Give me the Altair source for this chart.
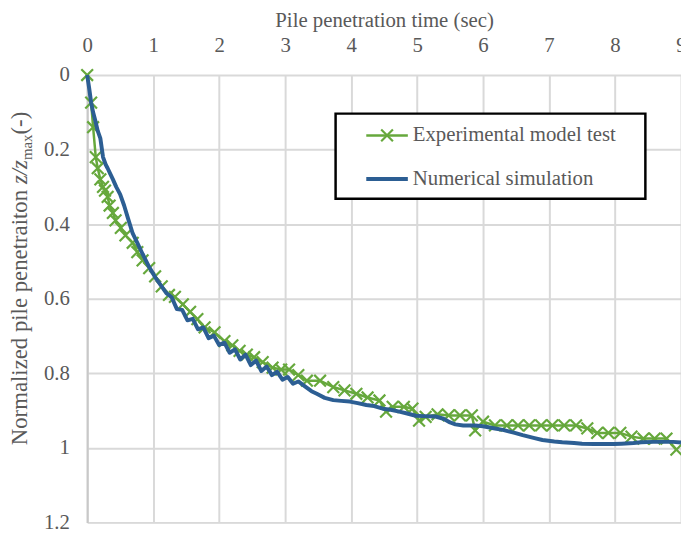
import altair as alt
import pandas as pd

# ---------------- data ----------------
exp_t = [0, 0.06, 0.09, 0.13, 0.16, 0.20, 0.24, 0.27, 0.31, 0.34, 0.39, 0.43, 0.51,
         0.58, 0.69, 0.76, 0.84, 0.94, 1.03, 1.13, 1.24, 1.33, 1.45, 1.56, 1.67,
         1.78, 1.93, 2.08, 2.20, 2.31, 2.42, 2.53, 2.66, 2.81, 2.94, 3.06, 3.20,
         3.33, 3.53, 3.73, 3.90, 4.08, 4.25, 4.43, 4.53, 4.63, 4.80, 4.93, 5.03,
         5.13, 5.31, 5.48, 5.65, 5.83, 5.88, 6.00, 6.18, 6.36, 6.53, 6.70, 6.88,
         7.05, 7.23, 7.41, 7.58, 7.73, 7.90, 8.08, 8.25, 8.43, 8.60, 8.78, 8.93]
exp_z = [0, 0.074, 0.14, 0.22, 0.25, 0.28, 0.30, 0.31, 0.327, 0.35, 0.37, 0.39, 0.41,
         0.43, 0.45, 0.475, 0.497, 0.518, 0.54, 0.567, 0.59, 0.595, 0.615, 0.635, 0.655,
         0.677, 0.69, 0.714, 0.725, 0.74, 0.75, 0.757, 0.77, 0.785, 0.79, 0.79, 0.805,
         0.82, 0.82, 0.837, 0.846, 0.855, 0.865, 0.873, 0.903, 0.89, 0.89, 0.895, 0.927,
         0.917, 0.91, 0.913, 0.913, 0.913, 0.953, 0.93, 0.94, 0.94, 0.94, 0.94, 0.94,
         0.94, 0.94, 0.94, 0.948, 0.96, 0.96, 0.96, 0.97, 0.975, 0.975, 0.975, 1.005]

num_t = [0, 0.03, 0.06, 0.09, 0.12, 0.16, 0.20, 0.24, 0.28, 0.31, 0.35, 0.39, 0.44,
         0.50, 0.56, 0.62, 0.69, 0.76, 0.84, 0.94, 1.04, 1.12, 1.20,
         1.28, 1.36, 1.44, 1.52, 1.60, 1.68, 1.76, 1.84, 1.92, 2.00, 2.08, 2.16,
         2.24, 2.32, 2.40, 2.48, 2.56, 2.64, 2.72, 2.80, 2.88, 2.96, 3.04, 3.12,
         3.20, 3.30, 3.40, 3.48, 3.60, 3.73, 3.85, 3.98, 4.10, 4.23, 4.35, 4.48,
         4.60, 4.73, 4.85, 4.98, 5.10, 5.28, 5.40, 5.50, 5.58, 5.70, 5.88, 6.00,
         6.18, 6.30, 6.48, 6.60, 6.78, 6.90, 7.08, 7.20, 7.38, 7.50, 7.68, 7.80,
         7.98, 8.10, 8.28, 8.40, 8.58, 8.70, 8.88, 9.00]
num_z = [0, 0.035, 0.074, 0.10, 0.12, 0.15, 0.17, 0.22, 0.24, 0.25, 0.265, 0.28, 0.30,
         0.32, 0.35, 0.385, 0.425, 0.45, 0.48, 0.515, 0.545, 0.565, 0.585,
         0.596, 0.628, 0.630, 0.658, 0.654, 0.682, 0.677, 0.706, 0.699, 0.724, 0.718, 0.745,
         0.736, 0.763, 0.750, 0.778, 0.766, 0.794, 0.782, 0.805, 0.796, 0.817, 0.810, 0.828,
         0.822, 0.835, 0.848, 0.855, 0.866, 0.872, 0.874, 0.876, 0.880, 0.885, 0.888, 0.895,
         0.898, 0.903, 0.908, 0.914, 0.915, 0.916, 0.922, 0.932, 0.937, 0.940, 0.940, 0.942,
         0.948, 0.952, 0.960, 0.966, 0.974, 0.979, 0.983, 0.985, 0.987, 0.989, 0.990, 0.990,
         0.990, 0.989, 0.987, 0.985, 0.984, 0.984, 0.984, 0.986]

x_ticks = [0, 1, 2, 3, 4, 5, 6, 7, 8, 9]
y_ticks = [0, 0.2, 0.4, 0.6, 0.8, 1.0, 1.2]

series_names = ["Experimental model test", "Numerical simulation"]
x_title = "Pile penetration time (sec)"
y_title_parts = ["Normalized pile penetraiton ", "z/z", "max", " (-)"]

# ---------------- styling ----------------
GREEN = "#66A83C"
BLUE = "#2C5E93"
TEXT = "#595959"
FONT = "Liberation Serif, Times New Roman, DejaVu Serif, serif"
XPATH = "M-1,-1L1,1M-1,1L1,-1"
FS = 21

exp_df = pd.DataFrame({"t": exp_t, "z": exp_z})
num_df = pd.DataFrame({"t": num_t, "z": num_z})
one = pd.DataFrame({"a": [0]})

x_axis = alt.Axis(orient="top", values=x_ticks, format="d", title=x_title,
                  labelFontSize=FS, labelFont=FONT, labelColor=TEXT,
                  labelPadding=20, ticks=False, tickSize=0, domain=False,
                  titleFont=FONT, titleFontSize=FS, titleColor=TEXT,
                  titleFontWeight="normal", titleY=-49, titleBaseline="alphabetic",
                  gridColor="#D9D9D9", gridWidth=2, labelFlush=False)
y_axis = alt.Axis(values=y_ticks, format="~g", title=None,
                  labelFontSize=FS, labelFont=FONT, labelColor=TEXT,
                  labelPadding=18, ticks=False, tickSize=0, domain=True,
                  domainColor="#C8C8C8", domainWidth=2,
                  gridColor="#D9D9D9", gridWidth=2, labelFlush=False)

xs = alt.Scale(domain=[0, 9], nice=False, zero=False)
ys = alt.Scale(domain=[0, 1.2], reverse=True, nice=False, zero=False)

X = alt.X("t:Q", scale=xs, axis=x_axis)
Y = alt.Y("z:Q", scale=ys, axis=y_axis)

exp_line = alt.Chart(exp_df).mark_line(color=GREEN, strokeWidth=2.5).encode(x=X, y=Y)
exp_pts = alt.Chart(exp_df).mark_point(shape=XPATH, size=140, strokeWidth=2.2,
                                       color=GREEN, filled=False, opacity=1).encode(x=X, y=Y)
num_line = alt.Chart(num_df).mark_line(color=BLUE, strokeWidth=4,
                                       strokeJoin="round").encode(x=X, y=Y)

# ---------------- legend box (plot-pixel coordinates) ----------------
leg_box = alt.Chart(one).mark_rect(fill="white", stroke="black", strokeWidth=2.5).encode(
    x=alt.value(251), x2=alt.value(564), y=alt.value(39), y2=alt.value(125))
leg_g = alt.Chart(one).mark_rule(color=GREEN, strokeWidth=2.5).encode(
    x=alt.value(282), x2=alt.value(324), y=alt.value(61))
leg_gx = alt.Chart(one).mark_point(shape=XPATH, size=140, strokeWidth=2.2, color=GREEN,
                                   filled=False, opacity=1).encode(
    x=alt.value(303), y=alt.value(61))
leg_b = alt.Chart(one).mark_rule(color=BLUE, strokeWidth=4).encode(
    x=alt.value(282), x2=alt.value(324), y=alt.value(105))
leg_t1 = alt.Chart(one).mark_text(text=series_names[0], align="left", baseline="middle",
                                  font=FONT, fontSize=FS, color=TEXT).encode(
    x=alt.value(329), y=alt.value(61))
leg_t2 = alt.Chart(one).mark_text(text=series_names[1], align="left", baseline="middle",
                                  font=FONT, fontSize=FS, color=TEXT).encode(
    x=alt.value(329), y=alt.value(105))

# ---------------- y title with subscript (rotated pieces) ----------------
YFS = 23
SUB = 15
y0 = 374  # plot-pixel y where title starts (bottom)
w1 = 11.471 * YFS
w2 = 1.056 * YFS
w3 = 1.722 * SUB
bx = -61
yt1 = alt.Chart(one).mark_text(text=y_title_parts[0], align="left", baseline="alphabetic",
                               angle=270, font=FONT, fontSize=YFS, color=TEXT).encode(
    x=alt.value(bx), y=alt.value(y0))
yt2 = alt.Chart(one).mark_text(text=y_title_parts[1], align="left", baseline="alphabetic",
                               angle=270, font=FONT, fontSize=YFS, fontStyle="italic",
                               color=TEXT).encode(
    x=alt.value(bx), y=alt.value(y0 - w1))
yt3 = alt.Chart(one).mark_text(text=y_title_parts[2], align="left", baseline="alphabetic",
                               angle=270, font=FONT, fontSize=SUB, color=TEXT).encode(
    x=alt.value(bx + 5), y=alt.value(y0 - w1 - w2))
yt4 = alt.Chart(one).mark_text(text=y_title_parts[3], align="left", baseline="alphabetic",
                               angle=270, font=FONT, fontSize=YFS, color=TEXT).encode(
    x=alt.value(bx), y=alt.value(y0 - w1 - w2 - w3))

chart = alt.layer(
    exp_line, exp_pts, num_line,
    leg_box, leg_g, leg_gx, leg_b, leg_t1, leg_t2,
    yt1, yt2, yt3, yt4,
).properties(
    width=600, height=452,
    autosize=alt.AutoSizeParams(type="none"),
    padding={"left": 80, "top": 65, "right": 0, "bottom": 8},
).configure_view(stroke=None).configure(background="white")

chart.save("out.html", embed_options={"renderer": "svg", "actions": False})
